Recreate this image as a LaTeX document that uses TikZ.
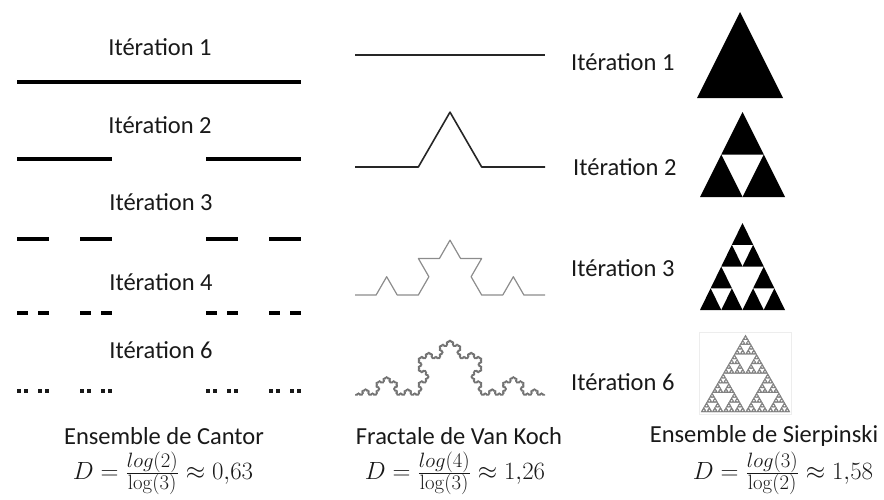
\documentclass[tikz,border=0pt]{standalone}
\usepackage[no-math]{fontspec}
\setmainfont{Carlito}
\usetikzlibrary{lindenmayersystems}

\pgfdeclarelindenmayersystem{VanKoch}{\rule{F -> F+F--F+F}}

% Cantor pieces: depth, x start, length, y, style
\newcommand\cantorseg[5]{%
  \begingroup
  \ifnum#1=0
    \draw[#5] (#2,#4) -- ++(#3,0);
  \else
    \pgfmathsetmacro\third{#3/3}%
    \pgfmathsetmacro\xr{#2+2*#3/3}%
    \pgfmathtruncatemacro\dd{#1-1}%
    \edef\next{\noexpand\cantorseg{\dd}{#2}{\third}{#4}{#5}%
      \noexpand\cantorseg{\dd}{\xr}{\third}{#4}{#5}}%
    \next
  \fi
  \endgroup}

% Sierpinski pieces: depth, x left, y base, width, height, style
\newcommand\sierptri[6]{%
  \begingroup
  \ifnum#1=0
    \path[#6] (#2,#3) -- ++(#4,0) -- ++(-#4/2,-#5) -- cycle;
  \else
    \pgfmathsetmacro\hw{#4/2}%
    \pgfmathsetmacro\hh{#5/2}%
    \pgfmathsetmacro\xm{#2+#4/2}%
    \pgfmathsetmacro\xq{#2+#4/4}%
    \pgfmathsetmacro\ym{#3-#5/2}%
    \pgfmathtruncatemacro\dd{#1-1}%
    \edef\next{\noexpand\sierptri{\dd}{#2}{#3}{\hw}{\hh}{#6}%
      \noexpand\sierptri{\dd}{\xm}{#3}{\hw}{\hh}{#6}%
      \noexpand\sierptri{\dd}{\xq}{\ym}{\hw}{\hh}{#6}}%
    \next
  \fi
  \endgroup}

\begin{document}
\begin{tikzpicture}[x=1pt,y=-1pt,
  itlabel/.style={font=\fontsize{24.5}{29}\selectfont, text=black!90, inner sep=0pt},
  formula/.style={font=\fontsize{24.88}{30}\selectfont, text=black!90, inner sep=0pt},
  cantorline/.style={line width=3.6pt},
  cantordot/.style={line width=3.6pt, black!90},
  kochdark/.style={line width=1.6pt, black!85, line join=round},
  kochgray/.style={line width=1.2pt, black!45, line join=round},
  sierpblack/.style={fill=black},
  sierpgray/.style={fill=black!50, draw=black!50, line width=0.3pt},
]
\useasboundingbox (0,0) rectangle (884,499);

%---------------------------------------
% Cantor set
%---------------------------------------
\node[itlabel] (c1) at (160,47) {Itération 1};
\cantorseg{0}{17}{284}{82}{cantorline}
\node[itlabel] (c2) at (160,125) {Itération 2};
\cantorseg{1}{17}{284}{159}{cantorline}
\node[itlabel] (c3) at (161,202) {Itération 3};
\cantorseg{2}{17}{284}{239}{cantorline}
\node[itlabel] (c4) at (161,282) {Itération 4};
\cantorseg{3}{17}{284}{313}{cantorline}
\node[itlabel] (c6) at (161,350) {Itération 6};
\cantorseg{4}{17}{284}{391}{cantordot}

\node[itlabel] (cantor) at (164,436) {Ensemble de Cantor};
\node[formula] (dcantor) at (163,473)
  {$D = \frac{log(2)}{\log(3)} \approx 0{,}63$};

%---------------------------------------
% Van Koch curve
%---------------------------------------
\draw[kochdark] (355,55) -- (545,55);
\node[itlabel, anchor=west] (k1) at (571,62) {Itération 1};

\begin{scope}[shift={(355,167)}]
  \draw[kochdark, l-system={VanKoch, axiom=F, order=1, step=190pt/3, angle=60}]
    lindenmayer system;
\end{scope}
\node[itlabel, anchor=west] (k2) at (573,167) {Itération 2};

\begin{scope}[shift={(355,295)}]
  \draw[kochgray, l-system={VanKoch, axiom=F, order=2, step=190pt/9, angle=60}]
    lindenmayer system;
\end{scope}
\node[itlabel, anchor=west] (k3) at (571,268) {Itération 3};

\begin{scope}[shift={(355,395)}]
  \draw[kochgray, black!55, line width=1.3pt, l-system={VanKoch, axiom=F, order=5, step=190pt/243, angle=60}]
    lindenmayer system;
\end{scope}
\node[itlabel, anchor=west] (k6) at (571,382) {Itération 6};

\node[itlabel] (koch) at (459,436) {Fractale de Van Koch};
\node[formula] (dkoch) at (455,473)
  {$D = \frac{log(4)}{\log(3)} \approx 1{,}26$};

%---------------------------------------
% Sierpinski triangle
%---------------------------------------
\sierptri{0}{697}{98}{86}{86}{sierpblack}
\sierptri{1}{700}{197}{85}{85}{sierpblack}
\sierptri{2}{700}{310}{85}{87}{sierpblack}
\draw[black!7] (699,332) rectangle (791,414);
\sierptri{5}{701}{412}{89}{77}{sierpgray}

\node[itlabel] (sierp) at (764,436) {Ensemble de Sierpinski};
\node[formula] (dsierp) at (783,473)
  {$D = \frac{log(3)}{\log(2)} \approx 1{,}58$};

\end{tikzpicture}
\end{document}
